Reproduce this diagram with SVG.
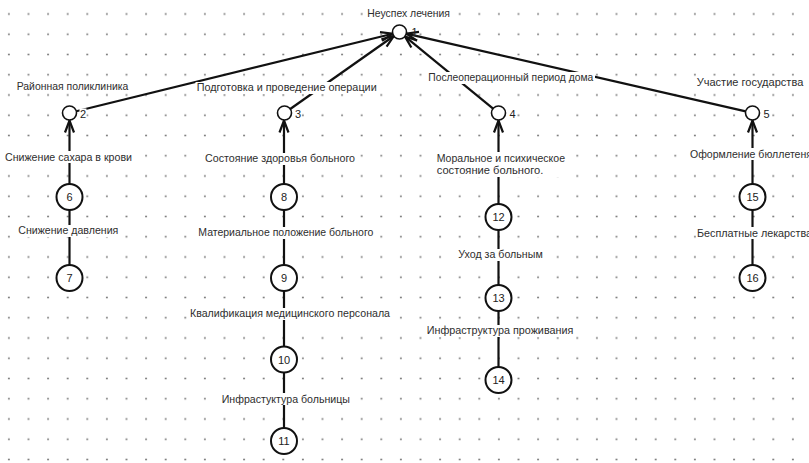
<svg xmlns="http://www.w3.org/2000/svg" width="809" height="463" viewBox="0 0 809 463">
  <style>
    .edge { stroke: #111; stroke-width: 2.2; fill: none; }
    .arrow { marker-end: url(#arr); }
    .node-s { fill: #fff; stroke: #111; stroke-width: 1.6; }
    .node-b { fill: #fff; stroke: #111; stroke-width: 2; }
    .lbl { font-family: "Liberation Sans", "DejaVu Sans", Arial, sans-serif; font-size: 11px; fill: #2e2e2e; }
    .num { font-family: "Liberation Sans", "DejaVu Sans", Arial, sans-serif; font-size: 11px; fill: #222; }
    .mid { text-anchor: middle; }
    .bg { fill: #fff; }
  </style>
  <defs>
    <pattern id="grid" x="-0.9" y="3.875" width="19.6" height="20.25" patternUnits="userSpaceOnUse">
      <circle cx="9.8" cy="10.125" r="1" fill="#7a7a7a"/>
    </pattern>
    <marker id="arr" viewBox="-14 -7 16 14" refX="0" refY="0" markerWidth="16" markerHeight="14" markerUnits="userSpaceOnUse" orient="auto">
      <path d="M-12,-4.5 L0,0 L-12,4.5" fill="none" stroke="#111" stroke-width="2.2"/>
    </marker>
  </defs>

  <!-- dotted background grid -->
  <rect x="0" y="0" width="809" height="463" fill="#fff"/>
  <rect x="0" y="0" width="809" height="463" fill="url(#grid)"/>

  <!-- connectors -->
  <g id="connectors">
    <line class="edge arrow" x1="76.3" y1="111.3" x2="392.7" y2="33.7"/>
    <line class="edge arrow" x1="290.2" y1="109" x2="393.8" y2="36"/>
    <line class="edge arrow" x1="493.1" y1="108.6" x2="404.9" y2="36.4"/>
    <line class="edge arrow" x1="745.7" y1="111.4" x2="406.3" y2="33.6"/>

    <line class="edge arrow" x1="69.5" y1="184" x2="69.5" y2="120.5"/>
    <line class="edge" x1="69.5" y1="265" x2="69.5" y2="210"/>

    <line class="edge arrow" x1="284" y1="184" x2="284" y2="120.5"/>
    <line class="edge" x1="284" y1="265" x2="284" y2="210"/>
    <line class="edge" x1="284" y1="346.5" x2="284" y2="291"/>
    <line class="edge" x1="284" y1="428" x2="284" y2="372.5"/>

    <line class="edge arrow" x1="498.5" y1="204" x2="498.5" y2="120.5"/>
    <line class="edge" x1="498.5" y1="285" x2="498.5" y2="230"/>
    <line class="edge" x1="498.5" y1="367" x2="498.5" y2="311"/>

    <line class="edge arrow" x1="752.5" y1="184" x2="752.5" y2="120.5"/>
    <line class="edge" x1="752.5" y1="265" x2="752.5" y2="210"/>
  </g>

  <!-- connector labels -->
  <g id="edge-labels">
    <rect class="bg" x="4" y="151" width="129" height="12"/>
    <text class="lbl" x="5" y="160.5" textLength="127" lengthAdjust="spacingAndGlyphs">Снижение сахара в крови</text>
    <rect class="bg" x="17" y="225" width="102" height="12"/>
    <text class="lbl" x="18.3" y="234.3" textLength="100" lengthAdjust="spacingAndGlyphs">Снижение давления</text>

    <rect class="bg" x="204" y="153" width="152" height="12"/>
    <text class="lbl" x="205" y="162" textLength="150" lengthAdjust="spacingAndGlyphs">Состояние здоровья больного</text>
    <rect class="bg" x="197" y="227" width="177" height="12"/>
    <text class="lbl" x="198.3" y="236" textLength="175" lengthAdjust="spacingAndGlyphs">Материальное положение больного</text>
    <rect class="bg" x="189" y="308" width="202" height="12"/>
    <text class="lbl" x="190" y="317.3" textLength="200" lengthAdjust="spacingAndGlyphs">Квалификация медицинского персонала</text>
    <rect class="bg" x="220" y="393" width="131" height="12"/>
    <text class="lbl" x="221.7" y="402.7" textLength="128.3" lengthAdjust="spacingAndGlyphs">Инфрастуктура больницы</text>

    <rect class="bg" x="435" y="152" width="131" height="25"/>
    <text class="lbl" x="436.7" y="161.5" textLength="128.3" lengthAdjust="spacingAndGlyphs">Моральное и психическое</text>
    <text class="lbl" x="436.7" y="174" textLength="106.6" lengthAdjust="spacingAndGlyphs">состояние больного.</text>
    <rect class="bg" x="457" y="249" width="87" height="12"/>
    <text class="lbl" x="458.3" y="258.3" textLength="84.4" lengthAdjust="spacingAndGlyphs">Уход за больным</text>
    <rect class="bg" x="425" y="325" width="150" height="12"/>
    <text class="lbl" x="426.7" y="334" textLength="146.6" lengthAdjust="spacingAndGlyphs">Инфраструктура проживания</text>

    <!-- these two run past the right edge of the canvas -->
    <rect class="bg" x="689" y="148" width="124" height="12"/>
    <text class="lbl" x="690" y="157.5" textLength="122" lengthAdjust="spacingAndGlyphs">Оформление бюллетеня</text>
    <rect class="bg" x="696" y="227" width="117" height="12"/>
    <text class="lbl" x="697" y="236.7" textLength="115" lengthAdjust="spacingAndGlyphs">Бесплатные лекарства</text>
  </g>

  <!-- event nodes -->
  <g id="node-1">
    <rect class="bg" x="366" y="7" width="86" height="12"/>
    <text class="lbl" x="367.3" y="16.5" textLength="82.7" lengthAdjust="spacingAndGlyphs">Неуспех лечения</text>
    <circle class="node-s" cx="399.5" cy="32" r="7"/>
    <text class="num" x="411.5" y="36">1</text>
  </g>
  <g id="node-2">
    <rect class="bg" x="15" y="81" width="115" height="12"/>
    <text class="lbl" x="16.7" y="90" textLength="111.6" lengthAdjust="spacingAndGlyphs">Районная поликлиника</text>
    <circle class="node-s" cx="69.5" cy="113" r="7"/>
    <rect class="bg" x="79.5" y="108.5" width="7" height="10"/>
    <text class="num" x="80" y="117.5">2</text>
  </g>
  <g id="node-3">
    <rect class="bg" x="195.5" y="82" width="183" height="12"/>
    <text class="lbl" x="196.7" y="91" textLength="180" lengthAdjust="spacingAndGlyphs">Подготовка и проведение операции</text>
    <circle class="node-s" cx="284.5" cy="113" r="7"/>
    <text class="num" x="295" y="117.5">3</text>
  </g>
  <g id="node-4">
    <rect class="bg" x="427" y="72" width="168" height="12"/>
    <text class="lbl" x="428.3" y="81" textLength="165" lengthAdjust="spacingAndGlyphs">Послеоперационный период дома</text>
    <circle class="node-s" cx="498.5" cy="113" r="7"/>
    <text class="num" x="509.5" y="117.5">4</text>
  </g>
  <g id="node-5">
    <rect class="bg" x="695.5" y="76.5" width="109" height="12"/>
    <text class="lbl" x="696.7" y="85.5" textLength="106.6" lengthAdjust="spacingAndGlyphs">Участие государства</text>
    <circle class="node-s" cx="752.5" cy="113" r="7"/>
    <text class="num" x="763.5" y="117.5">5</text>
  </g>

  <g id="node-6"><circle class="node-b" cx="69.5" cy="197" r="13"/><text class="num mid" x="69.5" y="201">6</text></g>
  <g id="node-7"><circle class="node-b" cx="69.5" cy="278" r="13"/><text class="num mid" x="69.5" y="282">7</text></g>
  <g id="node-8"><circle class="node-b" cx="284" cy="197" r="13"/><text class="num mid" x="284" y="201">8</text></g>
  <g id="node-9"><circle class="node-b" cx="284" cy="278" r="13"/><text class="num mid" x="284" y="282">9</text></g>
  <g id="node-10"><circle class="node-b" cx="284" cy="359.5" r="13"/><text class="num mid" x="284" y="363.5">10</text></g>
  <g id="node-11"><circle class="node-b" cx="284" cy="441" r="13"/><text class="num mid" x="284" y="445">11</text></g>
  <g id="node-12"><circle class="node-b" cx="498.5" cy="217" r="13"/><text class="num mid" x="498.5" y="221">12</text></g>
  <g id="node-13"><circle class="node-b" cx="498.5" cy="298" r="13"/><text class="num mid" x="498.5" y="302">13</text></g>
  <g id="node-14"><circle class="node-b" cx="498.5" cy="380" r="13"/><text class="num mid" x="498.5" y="384">14</text></g>
  <g id="node-15"><circle class="node-b" cx="752.5" cy="197" r="13"/><text class="num mid" x="752.5" y="201">15</text></g>
  <g id="node-16"><circle class="node-b" cx="752.5" cy="278" r="13"/><text class="num mid" x="752.5" y="282">16</text></g>
</svg>
